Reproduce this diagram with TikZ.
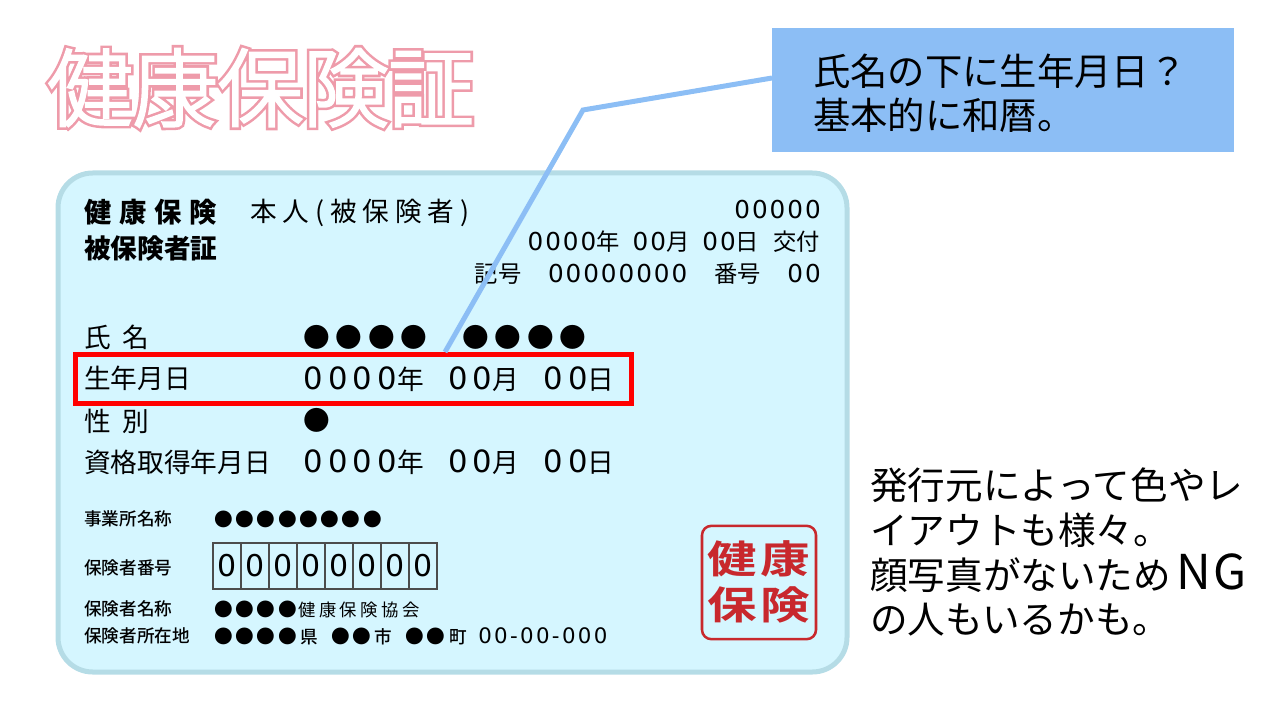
\documentclass[tikz,border=0pt]{standalone}
\usepackage{fontspec}
\setmainfont{Noto Sans CJK JP}
\newfontfamily\titlefontA[FakeBold=9]{Noto Sans CJK JP Light}
\newfontfamily\titlefontB[FakeBold=3]{Noto Sans CJK JP Light}
\newfontfamily\stampfont[FakeStretch=1.28]{Noto Sans CJK JP Bold}
\newfontfamily\labelfont{Noto Sans CJK JP Medium}
\newfontfamily\zerofont{DejaVu Sans}
\newcommand{\fs}[2]{\fontsize{#1}{#2}\selectfont}
\newcommand{\ls}[1]{\addfontfeature{LetterSpace=#1}}
% wide digits of the card rows
\newcommand{\bigzero}[1]{{\zerofont\fs{23}{26}\ls{17.5}#1}}
\newcommand{\smallzero}[1]{{\zerofont\fs{18.5}{22}\ls{8}#1}}
\newcommand{\postzero}[1]{{\zerofont\fs{16}{20}\ls{11}#1}}
\definecolor{cardfill}{HTML}{D5F6FF}
\definecolor{cardedge}{HTML}{B5DCE6}
\definecolor{calloutblue}{HTML}{8CBEF5}
\definecolor{titlepink}{HTML}{EE9BAA}
\definecolor{stampred}{HTML}{C8282D}
\tikzset{
	rowtext/.style={anchor=base west,inner sep=0pt,font=\fs{20}{24}},
	rowright/.style={anchor=base east,inner sep=0pt,font=\fs{17.5}{20}},
	smalltext/.style={anchor=base west,inner sep=0pt,font=\labelfont\fs{13.2}{16}},
	dottext/.style={anchor=base west,inner sep=0pt,font=\fs{14}{18}\ls{14}},
	bigdot/.style={anchor=base west,inner sep=0pt,font=\fs{20}{24}\ls{22}},
	cellbox/.style={draw=black!70,line width=0.9pt,minimum width=21pt,minimum height=34.5pt,inner sep=0pt,font=\zerofont\fs{22.5}{26}},
	stampchar/.style={text=stampred,inner sep=0pt,font=\stampfont\fs{29}{32}}
}
\begin{document}
\begin{tikzpicture}[x=0.75pt,y=-0.75pt]
	\useasboundingbox (0,0) rectangle (1280,720);
	% title
	\node[inner sep=0pt,anchor=base west,text=titlepink,font=\titlefontA\fs{64}{70}] (titleback) at (47,120) {健康保険証};
	\node[inner sep=0pt,anchor=base west,text=white,font=\titlefontB\fs{64}{70}] (titlefront) at (47,120) {健康保険証};
	% card
	\node[draw=cardedge,fill=cardfill,line width=3.75pt,rounded corners=26pt,minimum width=591.75pt,minimum height=374.25pt] (card) at (452.5,422.5) {};
	\node[rowtext,font=\bfseries\fs{20.5}{24}\ls{28}] (kind) at (84,223) {健康保険};
	\node[rowtext,font=\bfseries\fs{20}{24}] (cardname) at (84,258) {被保険者証};
	\node[rowtext,font=\fs{20}{24}\ls{22}] (person) at (250,222) {本人(被保険者)};
	\node[rowright] (serial) at (821,219) {\smallzero{00000}};
	\node[rowright] (issued) at (820,250.5) {\smallzero{0000}年\hspace{9.75pt}\smallzero{00}月\hspace{9.75pt}\smallzero{00}日\hspace{10.5pt}交付};
	\node[rowright] (numbers) at (821,282) {記号\hspace{20pt}\smallzero{00000000}\hspace{20pt}番号\hspace{20pt}\smallzero{00}};
	% rows
	\node[rowtext,font=\fs{20}{24}\ls{20}] (namelabel) at (84,347) {氏 名};
	\node[bigdot] (namedots) at (303,347) {●●●●\hspace{26pt}●●●●};
	\node[rowtext] (birthlabel) at (84,388) {生年月日};
	\node[rowtext] (birthvalue) at (303,389) {\bigzero{0000}年\hspace{.9em}\bigzero{00}月\hspace{.9em}\bigzero{00}日};
	\node[rowtext,font=\fs{20}{24}\ls{20}] (sexlabel) at (84,431) {性 別};
	\node[bigdot] (sexdot) at (303,430) {●};
	\node[rowtext] (datelabel) at (84,472) {資格取得年月日};
	\node[rowtext] (datevalue) at (303,472.5) {\bigzero{0000}年\hspace{.9em}\bigzero{00}月\hspace{.9em}\bigzero{00}日};
	% lower block
	\node[smalltext] (office) at (84,525) {事業所名称};
	\node[dottext] (officedots) at (214,526) {●●●●●●●●};
	\node[smalltext] (insurer) at (84,574) {保険者番号};
	\foreach \i in {0,...,7}
		\node[cellbox] (cell\i) at ({227+28*\i},566) {0};
	\node[smalltext] (insname) at (84,615) {保険者名称};
	\node[dottext] (insdots) at (214,616) {●●●●};
	\node[smalltext,font=\fs{13}{16}\ls{20}] (insvalue) at (298,616) {健康保険協会};
	\node[smalltext] (address) at (84,642) {保険者所在地};
	\node[dottext] (adrdots) at (214,643) {●●●●};
	\node[smalltext] (pref) at (300,643) {県};
	\node[dottext] (citydots) at (331,643) {●●};
	\node[smalltext] (city) at (374,643) {市};
	\node[dottext] (towndots) at (405,643) {●●};
	\node[smalltext] (town) at (449,643) {町};
	\node[smalltext] (postcode) at (478,643) {\postzero{00-00-000}};
	% stamp
	\node[draw=stampred,line width=1.9pt,rounded corners=7pt,minimum width=85.5pt,minimum height=85pt] (stamp) at (759,582.5) {};
	\node[stampchar] (stampa) at (732,559) {健};
	\node[stampchar] (stampb) at (785,559) {康};
	\node[stampchar] (stampc) at (732,605) {保};
	\node[stampchar] (stampd) at (785,605) {険};
	% red frame
	\node[draw=red,line width=3.75pt,minimum width=417pt,minimum height=36.75pt] (birthframe) at (353,378.5) {};
	% callout
	\node[fill=calloutblue,minimum width=346.5pt,minimum height=93pt,inner sep=0pt] (callout) at (1003,90) {};
	\node[anchor=west,inner sep=0pt,align=left,font=\fs{28}{33}] (callouttext) at (813,93) {氏名の下に生年月日？\\基本的に和暦。};
	\coordinate (calloutfoot) at (772,78);
	\coordinate (bend) at (583,110);
	\coordinate (rowtop) at (445,352);
	\draw[calloutblue,line width=3.75pt] (calloutfoot) -- (bend) -- (rowtop);
	% note
	\node[anchor=north west,inner sep=0pt,align=left,font=\fs{28.2}{33.4}] (note) at (870,468) {発行元によって色やレ\\イアウトも様々。\\顔写真がないため\hspace{3.75pt}{\fs{36}{33.4}\ls{5}NG}\\の人もいるかも。};
\end{tikzpicture}
\end{document}
